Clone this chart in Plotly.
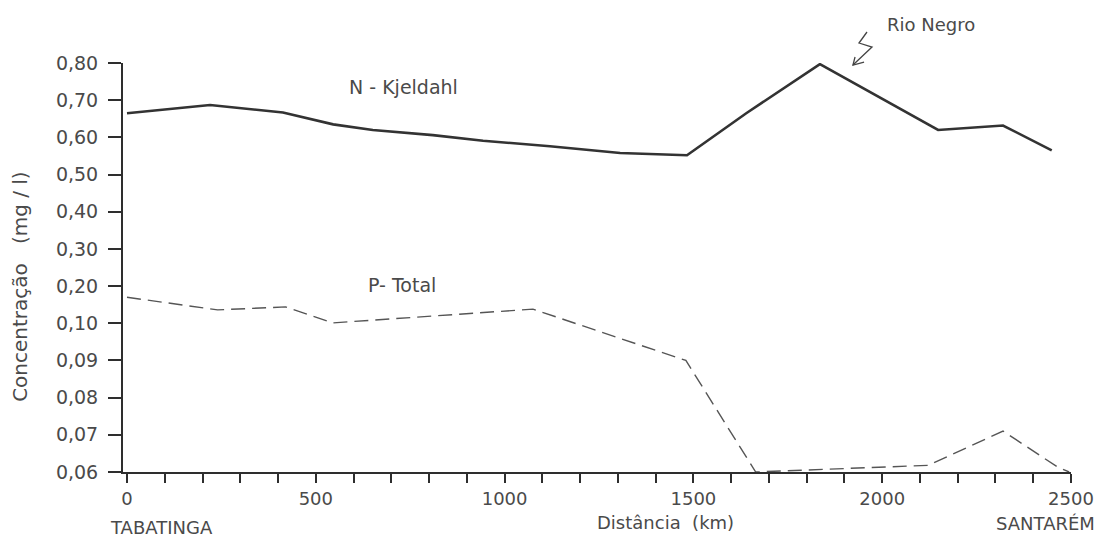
import plotly.graph_objects as go

# ---------------- data ----------------
n_km = [0, 220, 413, 546, 651, 810, 943, 1120, 1306, 1483, 1640, 1835, 2148, 2320, 2449]
n_val = [0.665, 0.687, 0.667, 0.635, 0.620, 0.606, 0.591, 0.576, 0.558, 0.552, 0.665, 0.797, 0.620, 0.632, 0.565]

p_km = [0, 240, 420, 545, 1075, 1480, 1665, 1925, 2122, 2320, 2462, 2495]
p_val = [0.170, 0.136, 0.144, 0.101, 0.138, 0.090, 0.060, 0.0611, 0.0618, 0.071, 0.0615, 0.060]

y_ticks = [0.06, 0.07, 0.08, 0.09, 0.10, 0.20, 0.30, 0.40, 0.50, 0.60, 0.70, 0.80]
y_tick_text = ["0,06", "0,07", "0,08", "0,09", "0,10", "0,20", "0,30", "0,40", "0,50", "0,60", "0,70", "0,80"]
x_ticks = list(range(0, 2501, 100))
x_label_vals = [0, 500, 1000, 1500, 2000, 2500]


# piecewise-linear concentration scale of the original figure
def ypos(v):
    if v <= 0.10:
        return (v - 0.06) / 0.01
    return 4 + (v - 0.10) / 0.1


FONT = "DejaVu Sans"
TXT = "#4a4a4a"
LINE = "#2e2e2e"

fig = go.Figure()
fig.add_trace(go.Scatter(x=n_km, y=[ypos(v) for v in n_val], mode="lines",
                         line=dict(color="#333333", width=2.6), showlegend=False,
                         cliponaxis=False))
fig.add_trace(go.Scatter(x=p_km, y=[ypos(v) for v in p_val], mode="lines",
                         line=dict(color="#555555", width=1.4, dash="14px,7px"),
                         showlegend=False, cliponaxis=False))

fig.update_layout(
    width=1110, height=537, autosize=False,
    margin=dict(l=123, r=39, t=63, b=65, pad=0),
    paper_bgcolor="white", plot_bgcolor="white",
    font=dict(family=FONT, color=TXT, size=19),
    xaxis=dict(range=[-10.6, 2500], tickmode="array", tickvals=x_ticks,
               ticktext=[str(v) if v in x_label_vals else "" for v in x_ticks],
               showline=True, linecolor=LINE, linewidth=2, ticks="outside",
               ticklen=9, tickwidth=1.6, tickcolor=LINE, showgrid=False,
               zeroline=False, tickfont=dict(size=18, color=TXT, family=FONT)),
    yaxis=dict(range=[0, 11], tickmode="array", tickvals=[ypos(v) for v in y_ticks],
               ticktext=y_tick_text, showline=True, linecolor=LINE, linewidth=2,
               ticks="outside", ticklen=13, tickwidth=1.6, tickcolor=LINE,
               showgrid=False, zeroline=False, ticklabelstandoff=6,
               tickfont=dict(size=19, color=TXT, family=FONT)),
)

ann = [
    dict(text="N - Kjeldahl", x=731, y=10.35, xref="x", yref="y", size=19),
    dict(text="P- Total", x=728, y=5.03, xref="x", yref="y", size=19),
    dict(text="Rio Negro", x=2129, y=1.095, xref="x", yref="paper", size=18),
    dict(text="Distância  (km)", x=1427, y=-0.1225, xref="x", yref="paper", size=18),
    dict(text="SANTARÉM", x=0.9735, y=-0.125, xref="paper", yref="paper", size=18),
]
for a in ann:
    fig.add_annotation(text=a["text"], x=a["x"], y=a["y"], xref=a["xref"], yref=a["yref"],
                       showarrow=False, xanchor="center", yanchor="middle",
                       font=dict(family=FONT, size=a["size"], color=TXT))
fig.add_annotation(text="TABATINGA", x=-0.016, y=-0.1345, xref="paper", yref="paper",
                   showarrow=False, xanchor="left", yanchor="middle",
                   font=dict(family=FONT, size=18, color=TXT))
fig.add_annotation(text="Concentração   (mg / l)", x=-0.1087, y=0.455, xref="paper", yref="paper",
                   showarrow=False, textangle=-90, xanchor="center", yanchor="middle",
                   font=dict(family=FONT, size=20, color=TXT))

# zig-zag arrow pointing at the Rio Negro peak
fig.add_shape(type="path", xref="paper", yref="paper",
              path="M 0.7848 1.0758 L 0.7764 1.0489 L 0.7901 1.0391 L 0.7700 0.9951",
              line=dict(color="#444444", width=1.3))
fig.add_shape(type="path", xref="paper", yref="paper",
              path="M 0.7722 1.0147 L 0.7700 0.9951 L 0.7817 1.0024",
              line=dict(color="#444444", width=1.3))

fig.write_html("out.html")
